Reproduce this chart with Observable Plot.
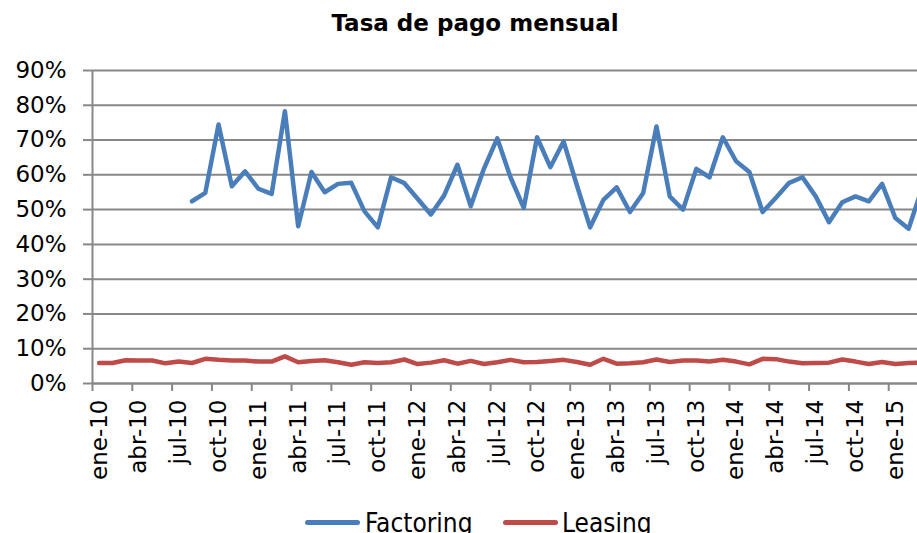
<!DOCTYPE html>
<html><head><meta charset="utf-8">
<script src="https://cdn.jsdelivr.net/npm/d3@7"></script>
<script src="https://cdn.jsdelivr.net/npm/@observablehq/plot@0.6"></script>
<style>
html,body{margin:0;padding:0;background:#fff;overflow:hidden;width:917px;height:533px;position:relative}
#title{position:absolute;left:0;top:12px;width:950px;text-align:center;font:bold 23px/23px "DejaVu Sans",sans-serif;color:#000}
#chart{position:absolute;left:0;top:50px}
.sw{position:absolute;height:5px;border-radius:3px;top:520px;width:55px}
.lt{position:absolute;top:510px;font:26px/26px "DejaVu Sans Condensed","DejaVu Sans",sans-serif;font-stretch:condensed;color:#000;white-space:nowrap}
</style></head>
<body>
<div id="title">Tasa de pago mensual</div>
<div id="chart"></div>
<div id="legend"></div>
<script>
const seriesNames = ["Factoring", "Leasing"];
const seriesColors = ["#4a7ebb", "#be4b48"];
const tickLabels = ["ene-10","abr-10","jul-10","oct-10","ene-11","abr-11","jul-11","oct-11","ene-12","abr-12","jul-12","oct-12","ene-13","abr-13","jul-13","oct-13","ene-14","abr-14","jul-14","oct-14","ene-15"];
const yTicks = [0, 10, 20, 30, 40, 50, 60, 70, 80, 90];
// monthly values (%), ene-10 .. mar-15
const factoring = [null,null,null,null,null,null,null,
  52.4,54.8,74.5,56.7,61.0,56.0,54.5,78.3,45.2,60.8,55.0,57.4,57.7,49.5,44.9,
  59.3,57.6,53.1,48.6,54.1,62.9,51.0,61.8,70.5,59.3,50.5,70.8,62.2,69.6,57.0,
  44.9,52.8,56.4,49.3,54.8,73.9,53.8,50.0,61.7,59.3,70.8,63.9,60.8,49.3,53.4,
  57.7,59.3,53.8,46.4,52.1,53.8,52.4,57.4,47.6,44.5,56.0];
const leasing = [5.9,5.9,6.7,6.6,6.6,5.8,6.3,5.9,7.1,6.8,6.6,6.6,6.3,6.3,7.8,6.1,
  6.5,6.7,6.1,5.4,6.1,5.9,6.1,6.9,5.6,6.0,6.7,5.7,6.5,5.6,6.1,6.8,6.1,6.2,6.5,
  6.8,6.2,5.4,7.1,5.7,5.8,6.1,6.9,6.2,6.6,6.6,6.3,6.8,6.3,5.5,7.1,7.0,6.3,5.8,
  5.9,6.0,6.9,6.3,5.6,6.2,5.6,5.9,6.0];

const gray = "#888888";
const monthsPerTick = 3;
const visibleMonths = 62.17;

const chart = Plot.plot({
  width: 917,
  height: 455,
  marginLeft: 92,
  marginRight: 0,
  marginTop: 20,
  marginBottom: 122,
  style: {fontFamily: "DejaVu Sans", fontSize: "23px", color: "black", background: "white"},
  x: {domain: [0, visibleMonths], axis: null},
  y: {domain: [0, 90], axis: null},
  marks: [
    Plot.gridY(yTicks, {stroke: gray, strokeOpacity: 1, strokeWidth: 2}),
    Plot.axisY(yTicks, {tickSize: 9, tickPadding: 17, tickFormat: d => `${d}%`, stroke: gray, strokeWidth: 2, strokeOpacity: 1, fill: "black", fontSize: 23}),
    Plot.axisX(tickLabels.map((_, k) => k * monthsPerTick), {tickSize: 8, tickFormat: () => "", stroke: gray, strokeWidth: 2, strokeOpacity: 1}),
    Plot.text(tickLabels, {x: (d, k) => k * monthsPerTick + 0.5, y: () => 0, text: d => d, rotate: -90, textAnchor: "end", lineAnchor: "middle", dy: 16, fontSize: 23, fill: "black"}),
    Plot.ruleY([0], {stroke: gray, strokeWidth: 2}),
    Plot.ruleX([0], {stroke: gray, strokeWidth: 2}),
    Plot.line(leasing, {x: (d, i) => i + 0.5, y: d => d, stroke: seriesColors[1], strokeWidth: 4.5, strokeLinejoin: "round", clip: true}),
    Plot.line(factoring, {x: (d, i) => i + 0.5, y: d => d, stroke: seriesColors[0], strokeWidth: 4.5, strokeLinejoin: "round", clip: true})
  ]
});
document.getElementById("chart").append(chart);

const legend = document.getElementById("legend");
const swLeft = [305, 503], txLeft = [365, 562];
seriesNames.forEach((name, k) => {
  const sw = document.createElement("div");
  sw.className = "sw"; sw.style.left = swLeft[k] + "px"; sw.style.background = seriesColors[k];
  const tx = document.createElement("div");
  tx.className = "lt"; tx.style.left = txLeft[k] + "px"; tx.textContent = name;
  legend.append(sw, tx);
});
</script>
</body></html>
